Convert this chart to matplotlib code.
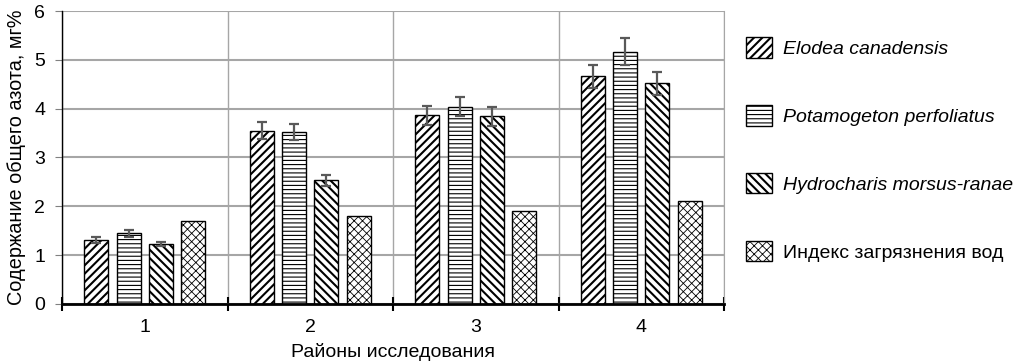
import numpy as np
import matplotlib
matplotlib.use("Agg")
import matplotlib.pyplot as plt

plt.rcParams["font.family"] = ["Liberation Sans", "DejaVu Sans"]

regions = ["1", "2", "3", "4"]
series = ["Elodea canadensis", "Potamogeton perfoliatus",
          "Hydrocharis morsus-ranae", "Индекс загрязнения вод"]
elodea = [1.31, 3.55, 3.86, 4.66]
elodea_err = [0.07, 0.17, 0.20, 0.24]
potamogeton = [1.45, 3.52, 4.04, 5.17]
potamogeton_err = [0.07, 0.17, 0.20, 0.27]
hydrocharis = [1.22, 2.53, 3.84, 4.52]
hydrocharis_err = [0.04, 0.12, 0.20, 0.24]
pollution_index = [1.70, 1.80, 1.90, 2.10]

values = [elodea, potamogeton, hydrocharis, pollution_index]
errors = [elodea_err, potamogeton_err, hydrocharis_err, None]
hatches = ["////", "----", "\\\\\\\\", "xxxx"]
hatch_lw = [1.5, 0.8, 1.5, 0.6]
italic = [True, True, True, False]

fig = plt.figure(figsize=(10.2, 3.61), dpi=100)
ax = fig.add_axes([0.0608, 0.158, 0.6490, 0.8115])

x = np.arange(1, len(regions) + 1)
width = 0.145
step = 0.195
handles = []
for i, (vals, err) in enumerate(zip(values, errors)):
    plt.rcParams["hatch.linewidth"] = hatch_lw[i]
    bars = ax.bar(x + (i - 1.5) * step, vals, width, color="white",
                  edgecolor="black", linewidth=1.0, hatch=hatches[i],
                  zorder=3, label=series[i])
    handles.append(bars)
    if err is not None:
        ax.errorbar(x + (i - 1.5) * step, vals, yerr=err, fmt="none",
                    ecolor="#595959", elinewidth=1.6, capsize=3.5,
                    capthick=1.6, zorder=4)

ax.set_xlim(0.5, 4.5)
ax.set_ylim(0, 6)
ax.set_yticks(range(0, 7))
ax.set_xticks(x)
ax.set_xticklabels(regions)
ax.set_xticks(np.arange(0.5, 4.6, 1), minor=True)
ax.tick_params(axis="x", which="major", length=0, labelsize=14, pad=11)
ax.tick_params(axis="x", which="minor", length=10, direction="inout",
               width=1.5, color="black")
ax.tick_params(axis="y", labelsize=14, length=5, color="#808080", pad=7)

ax.grid(axis="y", color="#a6a6a6", linewidth=1.5, zorder=0)
ax.grid(axis="x", which="minor", color="#a6a6a6", linewidth=1.0, zorder=0)

ax.spines["top"].set_visible(False)
ax.spines["right"].set_color("#a6a6a6")
ax.spines["left"].set_color("black")
ax.spines["left"].set_linewidth(1.0)
ax.spines["bottom"].set_linewidth(2.0)
ax.spines["bottom"].set_zorder(5)

ax.set_xlabel("Районы исследования", fontsize=14, labelpad=5)
ax.set_ylabel("Содержание общего азота, мг%", fontsize=14.3, labelpad=6)

leg = fig.legend(handles=handles, labels=series, loc="upper left",
                 bbox_to_anchor=(0.724, 0.918), frameon=False, fontsize=14,
                 handlelength=1.34, handleheight=1.24, labelspacing=2.42,
                 handletextpad=0.55, borderaxespad=0)
for t, it in zip(leg.get_texts(), italic):
    if it:
        t.set_style("italic")
for p, lw in zip(leg.get_patches(), hatch_lw):
    if hasattr(p, "set_hatch_linewidth"):
        p.set_hatch_linewidth(lw)

fig.savefig("out.png", dpi=100)
